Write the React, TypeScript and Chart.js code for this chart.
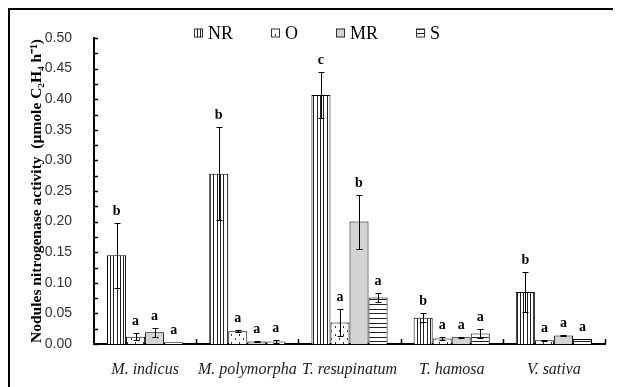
import React, { useEffect, useRef } from "react";
import { Chart, registerables } from "chart.js";

Chart.register(...registerables);

const categories = ["M. indicus", "M. polymorpha", "T. resupinatum", "T. hamosa", "V. sativa"];
const seriesNames = ["NR", "O", "MR", "S"];

const nrValues = [0.145, 0.278, 0.407, 0.043, 0.085];
const nrErrors = [0.053, 0.076, 0.038, 0.007, 0.033];
const nrLetters = ["b", "b", "c", "b", "b"];

const oValues = [0.012, 0.021, 0.035, 0.009, 0.006];
const oErrors = [0.006, 0.002, 0.022, 0.003, 0.001];
const oLetters = ["a", "a", "a", "a", "a"];

const mrValues = [0.019, 0.004, 0.2, 0.011, 0.014];
const mrErrors = [0.007, 0.001, 0.044, 0.001, 0.001];
const mrLetters = ["a", "a", "b", "a", "a"];

const sValues = [0.003, 0.004, 0.076, 0.017, 0.008];
const sErrors = [0.0, 0.002, 0.007, 0.007, 0.0];
const sLetters = ["a", "a", "a", "a", "a"];

const yMin = 0;
const yMax = 0.5;
const yStep = 0.05;
const yMinorStep = 0.025;

const yTitle = "Nodules nitrogenase activity  (µmole C₂H₄ h⁻¹)";

const errorSets = [nrErrors, oErrors, mrErrors, sErrors];
const letterSets = [nrLetters, oLetters, mrLetters, sLetters];

function makePattern(kind: string): CanvasPattern | string {
  const c = document.createElement("canvas");
  const g = c.getContext("2d")!;
  if (kind === "vert") {
    c.width = 10; c.height = 4;
    g.fillStyle = "#fff"; g.fillRect(0, 0, 10, 4);
    g.fillStyle = "#222";
    [0, 3, 7].forEach((x) => g.fillRect(x, 0, 1, 4));
  } else if (kind === "horiz") {
    c.width = 4; c.height = 14;
    g.fillStyle = "#fff"; g.fillRect(0, 0, 4, 14);
    g.fillStyle = "#222";
    [0, 5, 9].forEach((y) => g.fillRect(0, y, 4, 1));
  } else if (kind === "dots") {
    c.width = 8; c.height = 8;
    g.fillStyle = "#fff"; g.fillRect(0, 0, 8, 8);
    g.fillStyle = "#333";
    g.fillRect(1, 0, 1, 2);
    g.fillRect(5, 4, 1, 2);
  }
  const p = g.createPattern(c, "repeat");
  return p || "#fff";
}

const decorPlugin = {
  id: "decor",
  afterDatasetsDraw(chart: any) {
    const ctx = chart.ctx as CanvasRenderingContext2D;
    const ys = chart.scales.y;
    const xs = chart.scales.x;
    const area = chart.chartArea;
    ctx.save();
    ctx.strokeStyle = "#000";
    ctx.lineWidth = 1;
    chart.data.datasets.forEach((ds: any, di: number) => {
      const meta = chart.getDatasetMeta(di);
      meta.data.forEach((bar: any, i: number) => {
        const v = ds.data[i] as number;
        const e = errorSets[di][i];
        const bx = Math.round(bar.x) + 0.5;
        const yTop = ys.getPixelForValue(v + e);
        const yBot = ys.getPixelForValue(Math.max(0, v - e));
        if (e > 0) {
          ctx.beginPath();
          ctx.moveTo(bx, Math.round(yTop) + 0.5);
          ctx.lineTo(bx, Math.round(yBot) + 0.5);
          ctx.moveTo(bx - 3, Math.round(yTop) + 0.5);
          ctx.lineTo(bx + 3, Math.round(yTop) + 0.5);
          ctx.moveTo(bx - 3, Math.round(yBot) + 0.5);
          ctx.lineTo(bx + 3, Math.round(yBot) + 0.5);
          ctx.stroke();
        }
        ctx.fillStyle = "#000";
        ctx.font = "bold 14px 'Liberation Serif'";
        ctx.textAlign = "center";
        ctx.textBaseline = "alphabetic";
        ctx.fillText(letterSets[di][i], bar.x, yTop - 8);
      });
    });
    // inward minor/major ticks on y axis
    ctx.beginPath();
    for (let k = 0; k * yMinorStep <= yMax + 1e-9; k++) {
      const py = Math.round(ys.getPixelForValue(k * yMinorStep)) + 0.5;
      ctx.moveTo(area.left, py);
      ctx.lineTo(area.left + 4, py);
    }
    // inward ticks at category boundaries on x axis
    const n = categories.length;
    const bounds: number[] = [area.right];
    for (let i = 0; i < n - 1; i++) {
      bounds.push((xs.getPixelForValue(i) + xs.getPixelForValue(i + 1)) / 2);
    }
    bounds.forEach((bxv) => {
      const px = Math.round(bxv) + 0.5;
      ctx.moveTo(px, area.bottom);
      ctx.lineTo(px, area.bottom - 5);
    });
    ctx.lineWidth = 1.5;
    ctx.stroke();
    ctx.restore();
  },
  afterDraw(chart: any) {
    const ctx = chart.ctx as CanvasRenderingContext2D;
    const area = chart.chartArea;
    ctx.save();
    ctx.font = "18px 'Liberation Serif'";
    ctx.textBaseline = "middle";
    ctx.textAlign = "left";
    let x = area.left + 100;
    const cy = 23;
    chart.data.datasets.forEach((ds: any) => {
      ctx.fillStyle = ds.backgroundColor;
      ctx.fillRect(x, cy - 4.5, 9, 9);
      ctx.strokeStyle = "#333";
      ctx.lineWidth = 1;
      ctx.strokeRect(x + 0.5, cy - 4, 8, 8);
      ctx.fillStyle = "#000";
      ctx.fillText(ds.label, x + 14, cy + 1);
      x += 14 + ctx.measureText(ds.label).width + 38;
    });
    ctx.restore();
  },
};

export default function App() {
  const ref = useRef<HTMLCanvasElement | null>(null);
  useEffect(() => {
    if (!ref.current) return;
    const fills = [makePattern("vert"), makePattern("dots"), "#d3d3d3", makePattern("horiz")];
    const values = [nrValues, oValues, mrValues, sValues];
    const chart = new Chart(ref.current, {
      type: "bar",
      data: {
        labels: categories,
        datasets: seriesNames.map((name, i) => ({
          label: name,
          data: values[i],
          backgroundColor: fills[i] as any,
          borderColor: "#000",
          borderWidth: 1,
          categoryPercentage: 0.745,
          barPercentage: 1,
        })),
      },
      options: {
        responsive: false,
        devicePixelRatio: 1,
        animation: false,
        layout: { padding: { top: 28, right: 16, left: 0, bottom: 0 } },
        plugins: {
          legend: { display: false },
          tooltip: { enabled: false },
        },
        scales: {
          x: {
            grid: { display: false },
            border: { display: true, color: "#000", width: 2 },
            ticks: {
              color: "#222",
              padding: 8,
              font: { family: "'Liberation Serif'", size: 16, style: "italic" },
              maxRotation: 0,
              autoSkip: false,
            },
            afterFit: (s: any) => { s.height = 43; },
          },
          y: {
            min: yMin,
            max: yMax,
            grid: { display: false },
            border: { display: true, color: "#000", width: 2 },
            ticks: {
              stepSize: yStep,
              color: "#333",
              padding: 14,
              font: { family: "'Liberation Sans'", size: 14 },
              callback: (v: any) => Number(v).toFixed(2),
            },
            title: {
              display: true,
              text: yTitle,
              color: "#000",
              font: { family: "'Liberation Serif'", size: 15.5, weight: "bold" },
              padding: { top: 18, bottom: 0 },
            },
            afterFit: (s: any) => { s.width = 84; },
          },
        },
      },
      plugins: [decorPlugin],
    });
    return () => chart.destroy();
  }, []);
  return (
    <div
      style={{
        width: 611,
        height: 377,
        borderTop: "2px solid #000",
        borderLeft: "2px solid #000",
        background: "#fff",
      }}
    >
      <canvas ref={ref} width={611} height={377} style={{ display: "block" }} />
    </div>
  );
}
